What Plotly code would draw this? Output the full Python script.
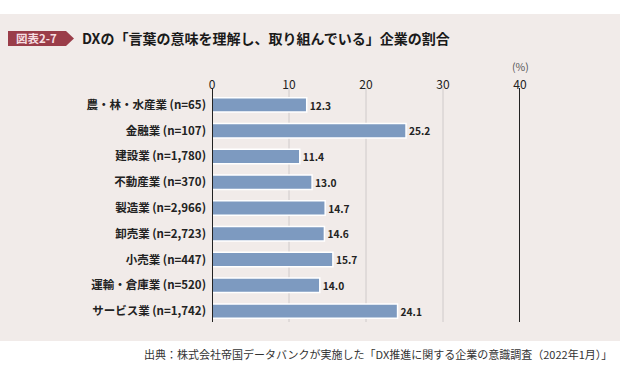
import plotly.graph_objects as go

categories = ["農・林・水産業 (n=65)", "金融業 (n=107)", "建設業 (n=1,780)", "不動産業 (n=370)",
              "製造業 (n=2,966)", "卸売業 (n=2,723)", "小売業 (n=447)", "運輸・倉庫業 (n=520)",
              "サービス業 (n=1,742)"]
values = [12.3, 25.2, 11.4, 13.0, 14.7, 14.6, 15.7, 14.0, 24.1]
tick_vals = [0, 10, 20, 30, 40]

W, H = 620, 380
L, R, T, B = 212, 100, 92, 56
PW, PH = W - L - R, H - T - B

def px(x):
    return (x - L) / PW

def py(y):
    return (H - B - y) / PH

FONT = "Noto Sans CJK JP"
BAR = "#7d9ac0"

fig = go.Figure(go.Bar(
    y=categories, x=values, orientation="h",
    marker=dict(color=BAR, line=dict(color="white", width=1.5)),
    width=0.56,
    text=[f"{v:.1f}" for v in values], textposition="outside",
    texttemplate="<b>%{text}</b>",
    textfont=dict(family=FONT, size=12, color="#222"),
    cliponaxis=False,
))

shapes = []
# panel background
shapes.append(dict(type="rect", xref="paper", yref="paper", x0=px(0), x1=px(W), y0=py(341), y1=py(14),
                   fillcolor="#f1ebe9", line=dict(width=0), layer="below"))
# grid lines
for v in tick_vals:
    if v in (0, 40):
        shapes.append(dict(type="line", xref="x", yref="paper", x0=v, x1=v, y0=py(322), y1=py(88),
                           line=dict(color="#222", width=2), layer="above"))
    else:
        shapes.append(dict(type="line", xref="x", yref="paper", x0=v, x1=v, y0=py(322), y1=py(88),
                           line=dict(color="#cfcaca", width=1), layer="below"))
# badge
bx0, bx1, btip, by0, by1 = 8, 66, 74, 31, 46
path = (f"M {px(bx0)},{py(by0)} L {px(bx1)},{py(by0)} L {px(btip)},{py((by0+by1)/2)} "
        f"L {px(bx1)},{py(by1)} L {px(bx0)},{py(by1)} Z")
shapes.append(dict(type="path", xref="paper", yref="paper", path=path,
                   fillcolor="#9a3d49", line=dict(width=0)))

annotations = [
    dict(x=px(37), y=py(38.5), xref="paper", yref="paper", text="<b>図表2-7</b>", showarrow=False,
         xanchor="center", yanchor="middle", font=dict(family=FONT, size=11.5, color="#f6dfe2")),
    dict(x=px(80), y=py(38.5), xref="paper", yref="paper",
         text="<b>DXの「言葉の意味を理解し、取り組んでいる」企業の割合</b>", showarrow=False,
         xanchor="left", yanchor="middle", font=dict(family=FONT, size=14, color="#1a1a1a")),
    dict(x=40, y=py(67), xref="x", yref="paper", text="(%)", showarrow=False,
         xanchor="center", yanchor="middle", font=dict(family=FONT, size=10.5, color="#555")),
    dict(x=px(614), y=py(354), xref="paper", yref="paper",
         text="出典：株式会社帝国データバンクが実施した「DX推進に関する企業の意識調査（2022年1月）」",
         showarrow=False, xanchor="right", yanchor="middle",
         font=dict(family=FONT, size=11, color="#333")),
]

fig.update_layout(
    width=W, height=H, margin=dict(l=L, r=R, t=T, b=B, autoexpand=False),
    paper_bgcolor="white", plot_bgcolor="rgba(0,0,0,0)",
    showlegend=False, shapes=shapes, annotations=annotations,
    xaxis=dict(range=[0, 40], side="top", tickvals=tick_vals, showgrid=False, zeroline=False,
               showline=False, ticks="", automargin=False,
               tickprefix="<b>", ticksuffix="</b>",
               tickfont=dict(family=FONT, size=12, color="#222"), fixedrange=True),
    yaxis=dict(autorange="reversed", showgrid=False, zeroline=False, showline=False, ticks="",
               ticklabelstandoff=5, automargin=False,
               tickprefix="<b>", ticksuffix="</b>",
               tickfont=dict(family=FONT, size=11.5, color="#222"), fixedrange=True),
    font=dict(family=FONT),
)

fig.write_html("out.html", config={"displayModeBar": False},
               post_script="document.body.style.margin='0';document.body.style.overflow='hidden';")
